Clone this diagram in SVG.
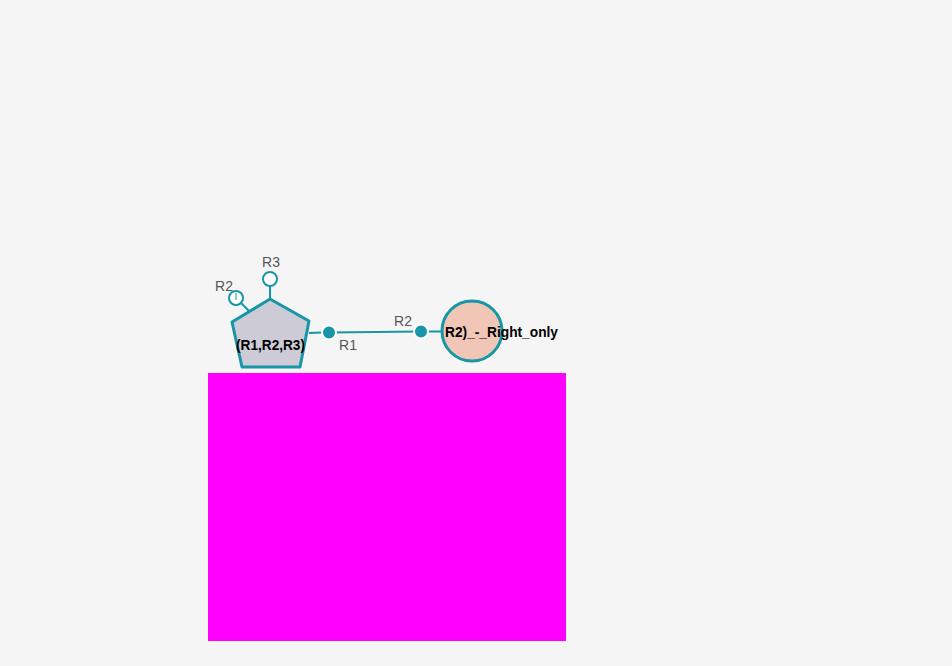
<svg xmlns="http://www.w3.org/2000/svg" width="952" height="666" viewBox="0 0 952 666">
<style>
.edge{stroke:#1796a6;stroke-width:2;fill:none}
.port-open{fill:#fff;stroke:#1796a6;stroke-width:2}
.port-fill{fill:#1796a6;stroke:#fff;stroke-width:2}
.plabel{font-family:"Liberation Sans",Arial,sans-serif;font-size:14px;fill:#555}
.nlabel{font-family:"Liberation Sans",Arial,sans-serif;font-size:14px;font-weight:bold;fill:#000}
</style>
<rect width="952" height="666" fill="#f5f5f5"/>
<rect x="208" y="373" width="358" height="268" fill="#ff00ff"/>
<g id="connectors">
<line class="edge" x1="329" y1="332.5" x2="421" y2="331.5"/>
</g>
<g id="node-pentagon">
<line class="edge" x1="270" y1="286" x2="270" y2="299"/>
<line class="edge" x1="241" y1="303" x2="249" y2="311"/>
<line class="edge" x1="309" y1="333" x2="322" y2="332.5"/>
<polygon points="270,299 309,321 300,367 242,367 232,322" fill="#cdcbd6" stroke="#1796a6" stroke-width="3" stroke-linejoin="round"/>
<text class="nlabel" x="236" y="350" textLength="69" lengthAdjust="spacingAndGlyphs">(R1,R2,R3)</text>
<circle class="port-open" cx="270" cy="279" r="7"/>
<circle class="port-open" cx="236" cy="298" r="7"/>
<line x1="236" y1="293" x2="236" y2="300" stroke="#1796a6" stroke-width="1"/>
<circle class="port-fill" cx="329" cy="332.5" r="7"/>
<text class="plabel" x="271" y="267" text-anchor="middle">R3</text>
<text class="plabel" x="224" y="291" text-anchor="middle">R2</text>
<text class="plabel" x="348" y="350" text-anchor="middle">R1</text>
</g>
<g id="node-circle">
<line class="edge" x1="421" y1="331.5" x2="443" y2="331.5"/>
<circle cx="472" cy="331" r="30" fill="#f2c6b6" stroke="#1796a6" stroke-width="3"/>
<circle class="port-fill" cx="421" cy="331.5" r="7"/>
<text class="plabel" x="403" y="326" text-anchor="middle">R2</text>
<text class="nlabel" x="445" y="337" textLength="113" lengthAdjust="spacingAndGlyphs">R2)_-_Right_only</text>
</g>
</svg>
